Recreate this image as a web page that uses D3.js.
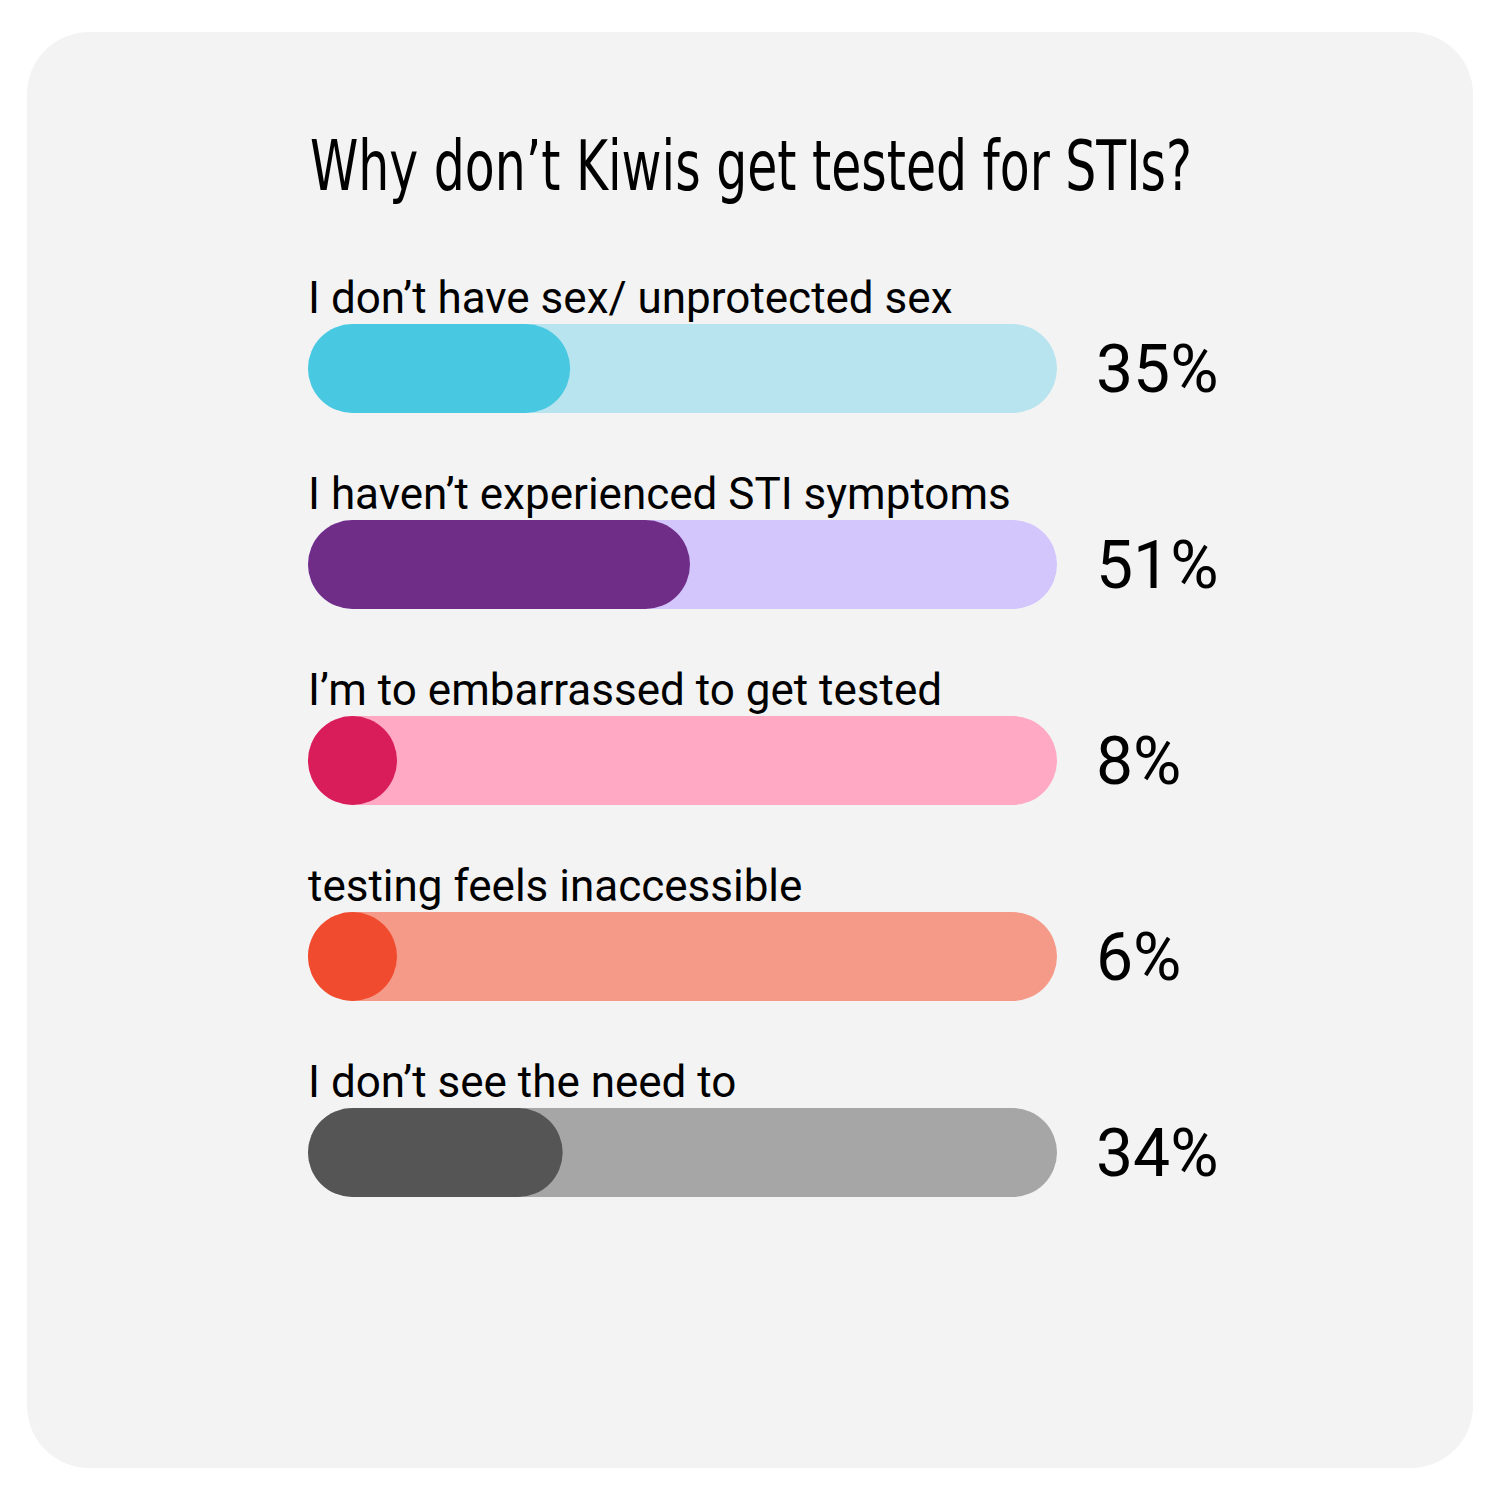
<!DOCTYPE html>
<html>
<head>
<meta charset="utf-8">
<script src="https://cdn.jsdelivr.net/npm/d3@7"></script>
<style>
  html, body { margin: 0; padding: 0; background: #ffffff; }
  svg { display: block; }
</style>
</head>
<body>
<svg id="chart" width="1500" height="1500"></svg>
<script>
const title = "Why don’t Kiwis get tested for STIs?";
const categories = [
  "I don’t have sex/ unprotected sex",
  "I haven’t experienced STI symptoms",
  "I’m to embarrassed to get tested",
  "testing feels inaccessible",
  "I don’t see the need to"
];
const values = [35, 51, 8, 6, 34];
const valueLabels = ["35%", "51%", "8%", "6%", "34%"];
const barColors = ["#49c9e1", "#702d88", "#d91d5b", "#f04b2e", "#555555"];
const trackColors = ["#b7e4ef", "#d3c6fd", "#ffa9c4", "#f59a89", "#a6a6a6"];

const svg = d3.select("#chart");

// card background
svg.append("rect")
  .attr("x", 27).attr("y", 32)
  .attr("width", 1446).attr("height", 1436)
  .attr("rx", 62).attr("ry", 62)
  .attr("fill", "#f3f3f3");

// title
svg.append("text")
  .attr("x", 310).attr("y", 190)
  .attr("font-family", "'Liberation Sans Narrow', 'DejaVu Sans Condensed', 'Roboto', sans-serif")
  .attr("font-stretch", "condensed")
  .attr("font-size", 70)
  .attr("textLength", 882)
  .attr("lengthAdjust", "spacingAndGlyphs")
  .attr("fill", "#000")
  .text(title);

const barH = 89;
const x = d3.scaleLinear().domain([0, 100]).range([308, 1057]);
const y = d3.scaleBand()
  .domain(categories)
  .range([324, 324 + 4 * 196 + barH])
  .paddingInner((196 - barH) / 196)
  .paddingOuter(0);

const rows = svg.selectAll("g.row")
  .data(categories.map((c, i) => ({ c, v: values[i], lab: valueLabels[i], fg: barColors[i], bg: trackColors[i] })))
  .join("g")
  .attr("class", "row");

rows.append("rect")
  .attr("x", x(0))
  .attr("y", d => y(d.c))
  .attr("width", x(100) - x(0))
  .attr("height", y.bandwidth())
  .attr("rx", y.bandwidth() / 2)
  .attr("fill", d => d.bg);

rows.append("rect")
  .attr("x", x(0))
  .attr("y", d => y(d.c))
  .attr("width", d => Math.max(x(d.v) - x(0), y.bandwidth()))
  .attr("height", y.bandwidth())
  .attr("rx", y.bandwidth() / 2)
  .attr("fill", d => d.fg);

rows.append("text")
  .attr("x", x(0))
  .attr("y", d => y(d.c) - 11)
  .attr("font-family", "Roboto, sans-serif")
  .attr("font-size", 44)
  .attr("fill", "#000")
  .text(d => d.c);

rows.append("text")
  .attr("x", 1096)
  .attr("y", d => y(d.c) + y.bandwidth() / 2 + 0.355 * 66)
  .attr("font-family", "Roboto, sans-serif")
  .attr("font-size", 66)
  .attr("fill", "#000")
  .text(d => d.lab);
</script>
</body>
</html>
